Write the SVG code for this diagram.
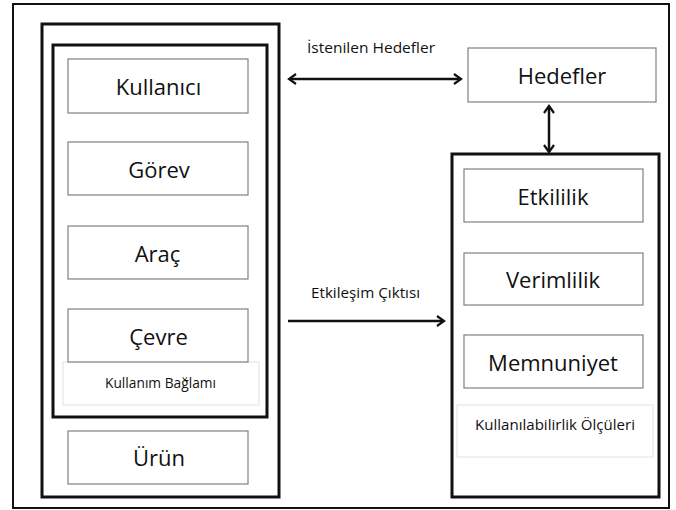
<svg xmlns="http://www.w3.org/2000/svg" width="676" height="510" viewBox="0 0 676 510">
  <style>
    .frame { fill: #fff; stroke: #111; stroke-width: 2; }
    .group { fill: none; stroke: #111; stroke-width: 3; }
    .box { fill: #fff; stroke: #808080; stroke-width: 1.2; }
    .caption-box { fill: #fff; stroke: #e2e2e2; stroke-width: 1; }
    .big { font-family: "Open Sans", "Liberation Sans", sans-serif; font-size: 22px; fill: #111; text-anchor: middle; }
    .small { font-family: "Open Sans", "Liberation Sans", sans-serif; font-size: 14.5px; fill: #111; text-anchor: middle; }
    .link { fill: none; stroke: #111; stroke-width: 2.5; }
  </style>
  <defs>
    <marker id="head" viewBox="0 0 12 12" refX="10" refY="6" markerWidth="12" markerHeight="12" markerUnits="userSpaceOnUse" orient="auto-start-reverse">
      <path d="M3,1 L10,6 L3,11" fill="none" stroke="#111" stroke-width="2.2"/>
    </marker>
  </defs>

  <rect class="frame" x="13" y="4" width="656" height="504"/>

  <!-- left side: product containing context of use -->
  <g id="urun-grubu">
    <rect class="group" x="42" y="24" width="237" height="473"/>
  </g>
  <g id="kullanim-baglami">
    <rect class="group" x="53" y="45" width="214" height="372"/>
    <rect class="caption-box" x="63" y="362" width="196" height="43"/>
    <text class="small" x="160.5" y="388" textLength="111" lengthAdjust="spacingAndGlyphs">Kullanım Bağlamı</text>
  </g>
  <g id="kullanici">
    <rect class="box" x="68" y="59" width="180" height="54"/>
    <text class="big" x="158.5" y="95">Kullanıcı</text>
  </g>
  <g id="gorev">
    <rect class="box" x="68" y="142" width="180" height="53"/>
    <text class="big" x="159" y="178">Görev</text>
  </g>
  <g id="arac">
    <rect class="box" x="68" y="226" width="180" height="53"/>
    <text class="big" x="157.5" y="262">Araç</text>
  </g>
  <g id="cevre">
    <rect class="box" x="68" y="309" width="180" height="53"/>
    <text class="big" x="158.5" y="345">Çevre</text>
  </g>
  <g id="urun">
    <rect class="box" x="68" y="431" width="180" height="53"/>
    <text class="big" x="159" y="466">Ürün</text>
  </g>

  <!-- right side: goals and usability measures -->
  <g id="hedefler">
    <rect class="box" x="468" y="48" width="188" height="54"/>
    <text class="big" x="562" y="84">Hedefler</text>
  </g>
  <g id="kullanilabilirlik-olculeri">
    <rect class="group" x="452" y="154" width="207" height="343"/>
    <rect class="caption-box" x="457" y="405" width="196" height="52"/>
    <text class="small" x="555" y="430" textLength="160" lengthAdjust="spacingAndGlyphs">Kullanılabilirlik Ölçüleri</text>
  </g>
  <g id="etkililik">
    <rect class="box" x="464" y="169" width="179" height="53"/>
    <text class="big" x="553" y="205">Etkililik</text>
  </g>
  <g id="verimlilik">
    <rect class="box" x="464" y="253" width="179" height="52"/>
    <text class="big" x="553" y="288">Verimlilik</text>
  </g>
  <g id="memnuniyet">
    <rect class="box" x="464" y="335" width="179" height="53"/>
    <text class="big" x="553" y="371">Memnuniyet</text>
  </g>

  <!-- connectors -->
  <g id="baglantilar">
    <line class="link" x1="289" y1="79" x2="461" y2="79" marker-start="url(#head)" marker-end="url(#head)"/>
    <text class="small" x="371" y="53" textLength="128" lengthAdjust="spacingAndGlyphs">İstenilen Hedefler</text>
    <line class="link" x1="549" y1="106" x2="549" y2="152" marker-start="url(#head)" marker-end="url(#head)"/>
    <line class="link" x1="288" y1="321" x2="444" y2="321" marker-end="url(#head)"/>
    <text class="small" x="365.5" y="298" textLength="109" lengthAdjust="spacingAndGlyphs">Etkileşim Çıktısı</text>
  </g>
</svg>
